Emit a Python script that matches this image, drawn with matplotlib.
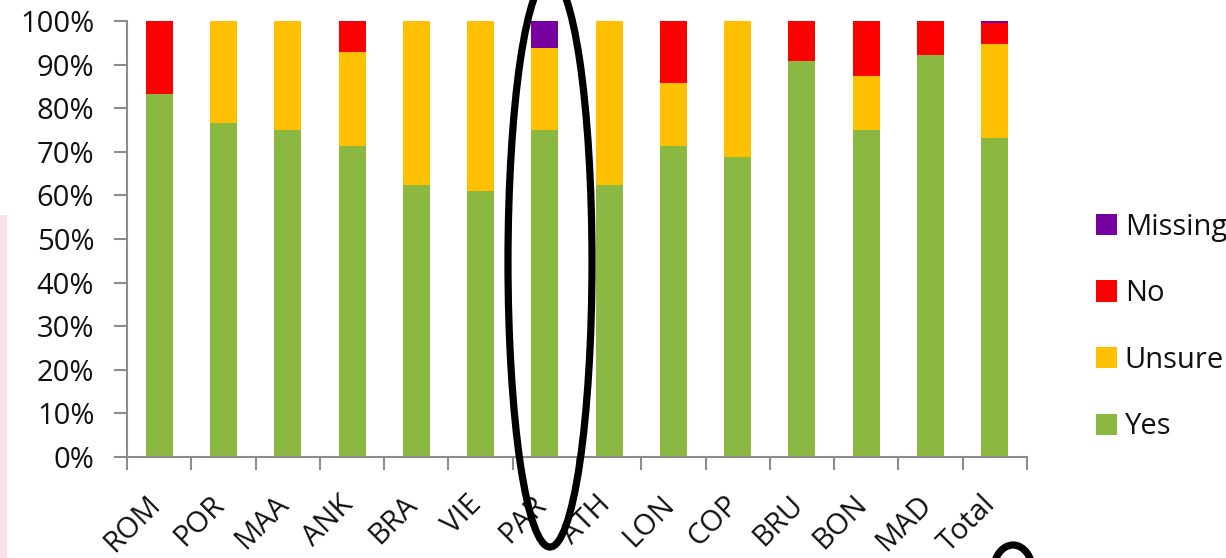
import matplotlib
matplotlib.use("Agg")
import matplotlib.pyplot as plt
from matplotlib.patches import Ellipse, Rectangle, Patch
from matplotlib.transforms import Affine2D
import numpy as np

plt.rcParams['font.family'] = ['Open Sans', 'DejaVu Sans']

# Share of answers per site (percent)
sites = ["ROM", "POR", "MAA", "ANK", "BRA", "VIE", "PAR", "ATH",
         "LON", "COP", "BRU", "BON", "MAD", "Total"]
yes     = [83.3, 76.5, 75.0, 71.4, 62.5, 60.9, 75.0, 62.5, 71.4, 68.75, 90.9, 75.0, 92.3, 73.2]
unsure  = [0.0, 23.5, 25.0, 21.5, 37.5, 39.1, 18.75, 37.5, 14.3, 31.25, 0.0, 12.5, 0.0, 21.5]
no      = [16.7, 0.0, 0.0, 7.1, 0.0, 0.0, 0.0, 0.0, 14.3, 0.0, 9.1, 12.5, 7.7, 4.9]
missing = [0.0, 0.0, 0.0, 0.0, 0.0, 0.0, 6.25, 0.0, 0.0, 0.0, 0.0, 0.0, 0.0, 0.4]

series = [("Yes", yes, "#8BB840"),
          ("Unsure", unsure, "#FFC000"),
          ("No", no, "#FF0000"),
          ("Missing", missing, "#7600A0")]

W, H = 1226, 558
fig = plt.figure(figsize=(W / 100, H / 100), dpi=100)
ax = fig.add_axes([127 / W, 1 - 457 / H, 900 / W, 436 / H])

x = np.arange(len(sites))
bottom = np.zeros(len(sites))
for name, vals, color in series:
    vals = np.array(vals)
    ax.bar(x, vals, 0.42, bottom=bottom, color=color, label=name, zorder=2)
    bottom += vals

axis_color = "#8C8C8C"
text_color = "#111111"
ax.set_xlim(-0.5, len(sites) - 0.5)
ax.set_ylim(0, 100)
ax.set_yticks(np.arange(0, 101, 10))
ax.set_yticklabels([f"{v}%" for v in range(0, 101, 10)])
for s in ["top", "right"]:
    ax.spines[s].set_visible(False)
for s in ["left", "bottom"]:
    ax.spines[s].set_color(axis_color)
    ax.spines[s].set_linewidth(1.5)

ax.tick_params(axis="y", length=9.5, width=1.5, color=axis_color,
               labelsize=21, labelcolor=text_color, pad=14)
# category labels at bar centres, tick marks on the category boundaries
ax.set_xticks(x)
ax.set_xticklabels(sites, rotation=45, ha="right", va="top",
                   rotation_mode="anchor", fontsize=21, color=text_color)
ax.tick_params(axis="x", which="major", length=0, pad=20)
ax.set_xticks(np.arange(-0.5, len(sites), 1.0), minor=True)
ax.tick_params(axis="x", which="minor", length=9, width=1.5, color=axis_color)

# place each slanted label so it ends just right of its bar centre,
# with its top edge a fixed distance below the axis
fig.canvas.draw()
label_top = H - 490          # display y (pixels from bottom)
for xi, lbl in zip(x, ax.get_xticklabels()):
    bb = lbl.get_window_extent()
    cx = ax.transData.transform((xi, 0))[0]
    dx = (cx + 7) - bb.x1
    dy = label_top - bb.y1
    lbl.set_transform(lbl.get_transform() + Affine2D().translate(dx, dy))

handles = [Patch(facecolor=c, edgecolor="none") for _, _, c in series][::-1]
labels = [n for n, _, _ in series][::-1]
fig.legend(handles, labels, loc="center left",
           bbox_to_anchor=(1081 / W, 1 - 327 / H), frameon=False,
           fontsize=21, handlelength=0.75, handleheight=0.75,
           handletextpad=0.25, labelspacing=1.29, borderpad=0,
           labelcolor=text_color)

# faint pink backdrop strip at the left edge
fig.add_artist(Rectangle((0, 0), 7 / W, 1 - 215 / H, transform=fig.transFigure,
                         facecolor="#F5CDD6", edgecolor="none", alpha=0.6, zorder=0))

# hand-drawn highlight rings
fig.add_artist(Ellipse((550 / W, 1 - 262 / H), 84 / W, 570 / H,
                       transform=fig.transFigure, fill=False,
                       edgecolor="black", linewidth=5.2, zorder=5))
fig.add_artist(Ellipse((1013 / W, 1 - 573 / H), 40 / W, 56 / H,
                       transform=fig.transFigure, fill=False,
                       edgecolor="black", linewidth=5.2, zorder=5))

fig.savefig("out.png", dpi=100)
